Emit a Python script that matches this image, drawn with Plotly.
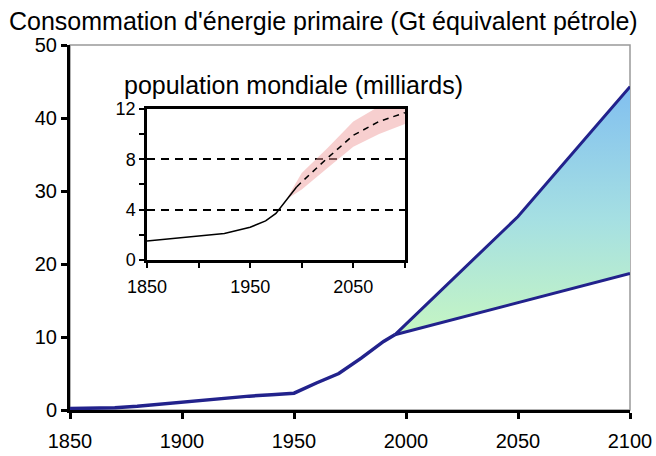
import plotly.graph_objects as go

# Consommation d'énergie primaire (Gt équivalent pétrole)
annees = [1850, 1870, 1880, 1890, 1900, 1910, 1920, 1930, 1940, 1950,
          1960, 1970, 1980, 1990, 1995]
energie = [0.2, 0.3, 0.5, 0.8, 1.0, 1.4, 1.7, 1.9, 2.1, 2.3,
           3.7, 5.0, 7.1, 9.4, 10.3]

annees_bas = [1995, 2100]
energie_bas = [10.3, 18.7]

annees_haut = [1995, 2050, 2100]
energie_haut = [10.3, 26.5, 44.3]

# population mondiale (milliards)
pop_annees = [1850, 1900, 1925, 1950, 1965, 1975, 1985, 1995]
pop = [1.5, 1.9, 2.1, 2.6, 3.1, 3.7, 4.8, 5.8]

proj_annees = [1995, 2000, 2025, 2050, 2075, 2100]
proj = [5.8, 6.2, 8.1, 9.9, 11.0, 11.7]

bande_annees = [1985, 2000, 2025, 2050, 2075, 2100]
bande_bas = [4.8, 5.6, 7.3, 9.0, 10.0, 10.8]
bande_haut = [4.8, 6.9, 8.9, 11.0, 12.2, 12.8]

BLEU = "#22228c"
FONT = "Liberation Sans"

W, H = 656, 456

fig = go.Figure()

# zone entre les deux scénarios (dégradé vert -> bleu)
fig.add_trace(go.Scatter(x=annees_bas, y=energie_bas, mode="lines",
                         line=dict(width=0), hoverinfo="skip"))
fig.add_trace(go.Scatter(x=annees_haut, y=energie_haut, mode="lines",
                         line=dict(width=0), fill="tonexty",
                         fillgradient=dict(type="vertical", start=10, stop=45,
                                           colorscale=[[0, "#c6f6c2"], [0.45, "#a6e0e2"],
                                                       [1, "#80bef0"]]),
                         hoverinfo="skip"))

fig.add_trace(go.Scatter(x=annees, y=energie, mode="lines",
                         line=dict(color=BLEU, width=3.5)))
fig.add_trace(go.Scatter(x=annees_bas, y=energie_bas, mode="lines",
                         line=dict(color=BLEU, width=3)))
fig.add_trace(go.Scatter(x=annees_haut, y=energie_haut, mode="lines",
                         line=dict(color=BLEU, width=3)))

# encart population
fig.add_trace(go.Scatter(x=bande_annees, y=bande_bas, mode="lines",
                         line=dict(width=0), xaxis="x2", yaxis="y2", hoverinfo="skip"))
fig.add_trace(go.Scatter(x=bande_annees, y=bande_haut, mode="lines",
                         line=dict(width=0), fill="tonexty",
                         fillcolor="rgba(240,160,160,0.5)",
                         xaxis="x2", yaxis="y2", hoverinfo="skip"))
fig.add_trace(go.Scatter(x=pop_annees, y=pop, mode="lines",
                         line=dict(color="black", width=1.5),
                         xaxis="x2", yaxis="y2"))
fig.add_trace(go.Scatter(x=proj_annees, y=proj, mode="lines",
                         line=dict(color="black", width=1.5, dash="6px,5px"),
                         xaxis="x2", yaxis="y2"))

fig.update_layout(
    width=W, height=H,
    margin=dict(l=70, r=26, t=45, b=46),
    paper_bgcolor="white", plot_bgcolor="white",
    showlegend=False,
    font=dict(family=FONT, size=20, color="black"),
    title=dict(text="Consommation d'énergie primaire (Gt équivalent pétrole)",
               xref="container", x=9 / W, xanchor="left",
               yref="container", y=1 - 21 / H, yanchor="middle",
               font=dict(family=FONT, size=25, color="black")),
    xaxis=dict(range=[1850, 2100], tickvals=[1850, 1900, 1950, 2000, 2050, 2100],
               showgrid=False, zeroline=False, showline=True, linecolor="black",
               linewidth=3, ticks="outside", ticklen=6, tickwidth=2.5,
               tickcolor="black", tickfont=dict(size=20), ticklabelstandoff=5,
               automargin=False),
    yaxis=dict(range=[0, 50], tickvals=[0, 10, 20, 30, 40, 50],
               showgrid=False, zeroline=False, showline=True, linecolor="black",
               linewidth=3, ticks="outside", ticklen=6, tickwidth=2.5,
               tickcolor="black", tickfont=dict(size=20), automargin=False),
    xaxis2=dict(domain=[0.1375, 0.598], anchor="y2", range=[1850, 2100],
                tickvals=[1850, 1950, 2050],
                minor=dict(tickvals=[1900, 2000, 2100], ticks="outside", ticklen=5,
                           tickwidth=2, tickcolor="black"),
                showgrid=False, zeroline=False, showline=True, mirror=True,
                linecolor="black", linewidth=2.5, ticks="outside", ticklen=5,
                tickwidth=2, tickcolor="black", tickfont=dict(size=18),
                ticklabelstandoff=4, automargin=False),
    yaxis2=dict(domain=[0.411, 0.825], anchor="x2", range=[0, 12],
                tickvals=[0, 4, 8, 12],
                minor=dict(tickvals=[2, 6, 10], ticks="outside", ticklen=5,
                           tickwidth=2, tickcolor="black", showgrid=False),
                showgrid=True, gridcolor="black", gridwidth=1.5, griddash="8px,6px",
                zeroline=False, showline=True, mirror=True,
                linecolor="black", linewidth=2.5, ticks="outside", ticklen=5,
                tickwidth=2, tickcolor="black", tickfont=dict(size=18),
                automargin=False),
    shapes=[dict(type="rect", xref="paper", yref="paper", x0=0, x1=1, y0=0, y1=1,
                 line=dict(color="#999999", width=1.5), layer="below"),
            dict(type="rect", xref="x2 domain", yref="y2 domain", x0=0, x1=1, y0=0, y1=1,
                 fillcolor="white", line=dict(width=0), layer="below")],
    annotations=[dict(text="population mondiale (milliards)", xref="paper", yref="paper",
                      x=0.093, y=0.89, xanchor="left", yanchor="middle", showarrow=False,
                      font=dict(family=FONT, size=25, color="black"))],
)

# pas de marge de page autour de la figure, pas de barre d'outils
fig.write_html("out.html", config={"displayModeBar": False},
               post_script="document.body.style.margin='0';"
                           "document.body.style.overflow='hidden';")
